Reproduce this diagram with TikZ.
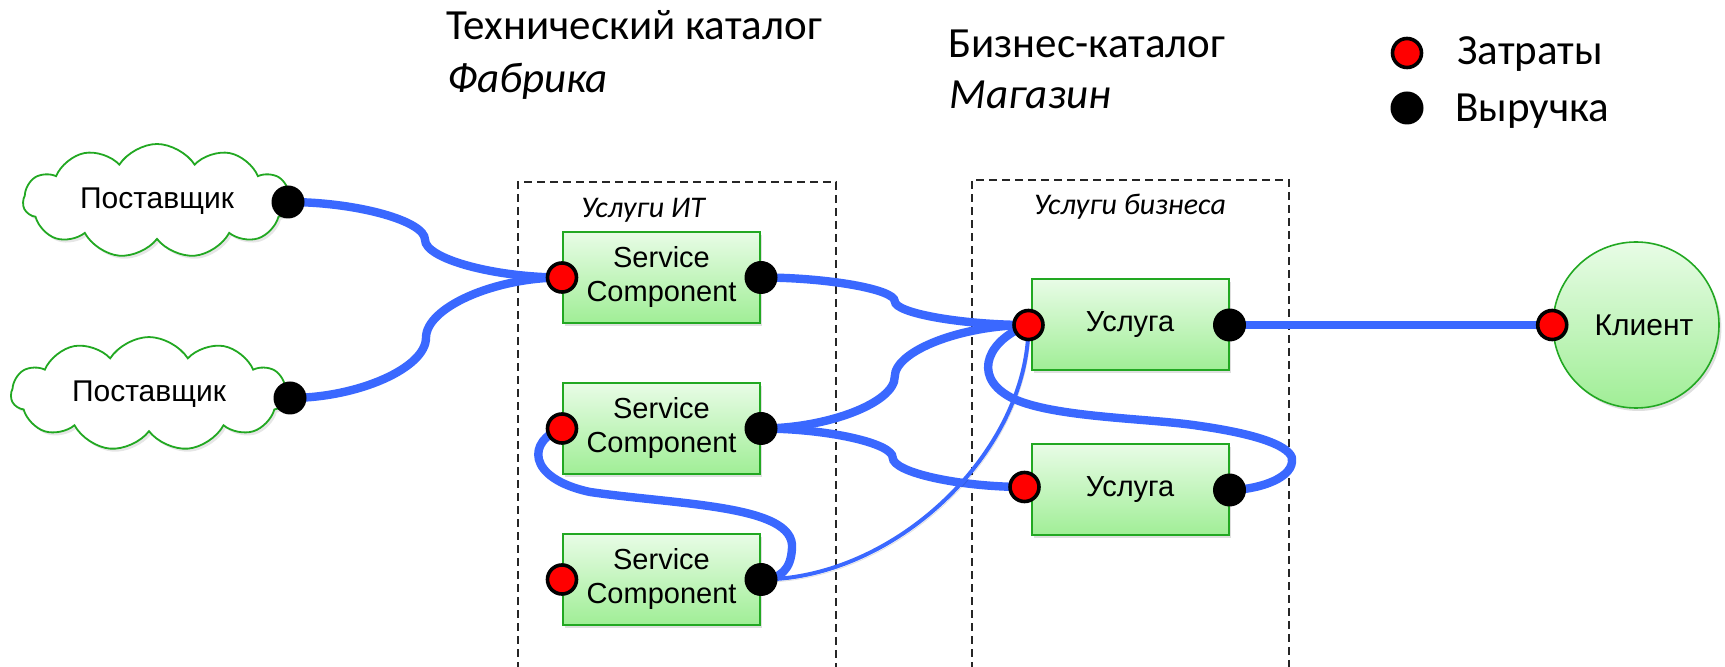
\documentclass[tikz,border=0pt]{standalone}
\usepackage{fontspec}
\setmainfont{Carlito}
\newfontfamily\arialf{Liberation Sans}
\usetikzlibrary{shapes.symbols,shadows,calc}
\definecolor{wireblue}{RGB}{58,104,255}
\definecolor{boxgreen}{RGB}{34,168,34}
\definecolor{topg}{RGB}{232,252,230}
\definecolor{botg}{RGB}{160,238,150}
\definecolor{dotred}{RGB}{255,0,0}
\pgfdeclarelayer{bg}\pgfdeclarelayer{fg}\pgfsetlayers{bg,main,fg}
\tikzset{
  svcbox/.style={draw=boxgreen, line width=1pt, top color=topg, bottom color=botg,
    minimum width=98.5pt, minimum height=45.5pt, inner sep=0pt, align=center,
    font=\arialf\fontsize{14.5}{17}\selectfont,
    drop shadow={shadow xshift=1.2pt, shadow yshift=-1.5pt, opacity=0.25}},
  clientnode/.style={circle, draw=boxgreen, line width=0.8pt, top color=topg, bottom color=botg,
    minimum size=83pt, inner sep=0pt, font=\arialf\fontsize{15}{17}\selectfont,
    drop shadow={shadow xshift=1.2pt, shadow yshift=-1.5pt, opacity=0.25}},
  supcloud/.style={cloud, cloud puffs=11, cloud puff arc=115, aspect=2.6, draw=boxgreen,
    line width=0.9pt, fill=white, inner sep=0pt, font=\arialf\fontsize{15}{17}\selectfont,
    drop shadow={shadow xshift=1.2pt, shadow yshift=-1.5pt, opacity=0.2}},
  costdot/.style={circle, fill=dotred, draw=black, line width=1.8pt, minimum size=14.5pt, inner sep=0pt},
  revdot/.style={circle, fill=black, minimum size=16.5pt, inner sep=0pt},
  wshadow/.style={preaction={draw=black, opacity=0.12, transform canvas={xshift=0.8pt,yshift=-1.3pt}}},
  wire/.style={draw=wireblue, line width=4.2pt, wshadow},
  thinwire/.style={draw=wireblue, line width=2pt, wshadow},
  catalog/.style={draw=black!85, line width=1pt, dash pattern=on 4pt off 2.5pt},
  grouplbl/.style={font=\itshape\fontsize{15}{18}\selectfont, anchor=base},
  titletxt/.style={font=\fontsize{21.5}{25}\selectfont, anchor=base west, inner sep=0pt},
  legtxt/.style={font=\fontsize{21.5}{25}\selectfont, anchor=base west, inner sep=0pt},
  sconn/.style={to path={
    let \p1=(\tikztostart), \p2=(\tikztotarget) in
    .. controls ({0.75*\x1+0.25*\x2},\y1) and ({0.5*\x1+0.5*\x2},{0.75*\y1+0.25*\y2})
    .. ({0.5*\x1+0.5*\x2},{0.5*\y1+0.5*\y2})
    .. controls ({0.5*\x1+0.5*\x2},{0.25*\y1+0.75*\y2}) and ({0.25*\x1+0.75*\x2},\y2)
    .. (\tikztotarget) \tikztonodes}}
}
\begin{document}
\begin{tikzpicture}[x=0.5pt,y=-0.5pt]
\useasboundingbox (0,0) rectangle (1725,667);

% titles
\node[titletxt] (t1) at (446,40) {Технический каталог};
\node[titletxt] (t2) at (447,93) {\itshape Фабрика};
\node[titletxt] (t3) at (948,58) {Бизнес-каталог};
\node[titletxt] (t4) at (949,109) {\itshape Магазин};

% legend
\node[costdot] (lr) at (1407,53) {};
\node[revdot] (lk) at (1407,108) {};
\node[legtxt] (l1) at (1457,65) {Затраты};
\node[legtxt] (l2) at (1455,122) {Выручка};

% catalog frames
\draw[catalog] (518,670) -- (518,182) -- (836,182) -- (836,670);
\draw[catalog] (972,670) -- (972,180) -- (1289,180) -- (1289,670);
\node[grouplbl] (g1) at (643,218) {Услуги ИТ};
\node[grouplbl] (g2) at (1130,215) {Услуги бизнеса};

\begin{pgfonlayer}{bg}
\node[supcloud, minimum width=134pt, minimum height=57pt] (s1) at (157,201) {Поставщик};
\node[supcloud, minimum width=138pt, minimum height=56pt] (s2) at (149,394) {Поставщик};
\node[svcbox] (b1) at (661.5,277.5) {Service\\Component};
\node[svcbox] (b2) at (661.5,428.5) {Service\\Component};
\node[svcbox] (b3) at (661.5,579.5) {Service\\Component};
\node[svcbox] (u1) at (1130,325) {Услуга};
\node[svcbox] (u2) at (1130,490) {Услуга};
\node[clientnode] (cl) at (1636,325) {\hspace*{8pt}Клиент};
\end{pgfonlayer}

\begin{pgfonlayer}{fg}
\node[revdot] (c1d) at (288,202) {};
\node[revdot] (c2d) at (290,398) {};
\node[costdot] (b1r) at (b1.west) {};
\node[revdot] (b1k) at (b1.east) {};
\node[costdot] (b2r) at (b2.west) {};
\node[revdot] (b2k) at (b2.east) {};
\node[costdot] (b3r) at (b3.west) {};
\node[revdot] (b3k) at (b3.east) {};
\node[costdot] (u1r) at ([xshift=-1pt]u1.west) {};
\node[revdot] (u1k) at (u1.east) {};
\node[costdot] (u2r) at ([xshift=-3pt,yshift=1.5pt]u2.west) {};
\node[revdot] (u2k) at (u2.east) {};
\node[costdot] (clr) at (cl.west) {};
\end{pgfonlayer}

% connectors
\draw[wire] (c1d.center) to[sconn] (b1r.center);
\draw[wire] (c2d.center) to[sconn] (b1r.center);
\draw[wire] (b1k.center) to[sconn] (u1r.center);
\draw[wire] (b2k.center) to[sconn] (u1r.center);
\draw[wire] (b2k.center) to[sconn] (u2r.center);
\draw[thinwire] (b3k.center) .. controls +(135,0) and +(0,126) .. (u1r.center);
\draw[wire] (b2r.center) .. controls (528,440) and (525,478) .. (590,492)
  .. controls (680,505) and (795,505) .. (792,548)
  .. controls (791,570) and (780,579) .. (b3k.center);
\draw[wire] (u1r.center) .. controls (990,338) and (970,375) .. (1010,397)
  .. controls (1050,418) and (1150,418) .. (1200,426)
  .. controls (1270,436) and (1295,450) .. (1292,462)
  .. controls (1290,480) and (1255,490) .. (u2k.center);
\draw[wire] (u1k.center) -- (clr.center);
\end{tikzpicture}
\end{document}
